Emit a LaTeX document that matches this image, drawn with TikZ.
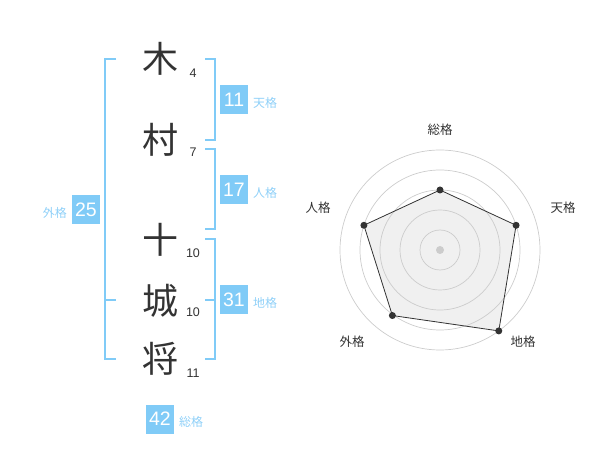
\documentclass[tikz,border=0pt]{standalone}
\usepackage{fontspec}
\setmainfont{Liberation Sans}
\newfontfamily\cjk{Noto Sans CJK JP}
\definecolor{bk}{HTML}{80CBF7}
\definecolor{lbl}{HTML}{8FD0F8}
\definecolor{ink}{HTML}{333333}
\definecolor{ring}{HTML}{CCCCCC}
\definecolor{area}{HTML}{F0F0F0}
\tikzset{
  kanji/.style={font=\cjk\fontsize{36}{36}\selectfont, text=ink, inner sep=0},
  stroke/.style={font=\fontsize{12.5}{12.5}\selectfont, text=ink, inner sep=0},
  valbox/.style={fill=bk, text=white, minimum width=28pt, minimum height=29pt, inner sep=0, font=\fontsize{19.5}{19.5}\selectfont},
  vallbl/.style={text=lbl, font=\cjk\fontsize{12}{12}\selectfont, inner sep=0, anchor=west},
  brk/.style={draw=bk, line width=1.6pt},
  axlbl/.style={text=ink, font=\cjk\fontsize{12.5}{12.5}\selectfont, inner sep=0},
  dot/.style={circle, fill=ink, inner sep=0, minimum size=7pt},
}
\begin{document}
\begin{tikzpicture}[x=1pt,y=-1pt]
\useasboundingbox (0,0) rectangle (600,470);
% characters
\node[kanji] (c1) at (160,59) {木};
\node[kanji] (c2) at (160,140) {村};
\node[kanji] (c3) at (160,240) {十};
\node[kanji] (c4) at (160,301) {城};
\node[kanji] (c5) at (160,359) {将};
\node[stroke] (s1) at (193,73) {4};
\node[stroke] (s2) at (193,152) {7};
\node[stroke] (s3) at (193,253) {10};
\node[stroke] (s4) at (193,312) {10};
\node[stroke] (s5) at (193,373) {11};
% right brackets
\draw[brk] (205,59) -- (215,59) -- (215,140) -- (205,140);
\draw[brk] (205,149) -- (215,149) -- (215,229) -- (205,229);
\draw[brk] (205,239) -- (215,239) -- (215,359) -- (205,359);
\draw[brk] (205,300) -- (215,300);
% left bracket
\draw[brk] (116,59) -- (105,59) -- (105,359) -- (116,359);
\draw[brk] (105,300) -- (116,300);
% value boxes
\node[valbox] (v1) at (234,100) {11};
\node[vallbl] (l1) at (253,103) {天格};
\node[valbox] (v2) at (234,190) {17};
\node[vallbl] (l2) at (253,193) {人格};
\node[valbox] (v3) at (234,300) {31};
\node[vallbl] (l3) at (253,303) {地格};
\node[valbox] (v4) at (86,210) {25};
\node[vallbl, anchor=east] (l4) at (67,213) {外格};
\node[valbox] (v5) at (160,419) {42};
\node[vallbl] (l5) at (179,422) {総格};
% radar
\coordinate (O) at (440,250);
\path (O) ++(0,-60) coordinate (pa)
      (O) ++({80*cos(18)},{-80*sin(18)}) coordinate (pb)
      (O) ++({100*cos(-54)},{-100*sin(-54)}) coordinate (pc)
      (O) ++({81*cos(-126)},{-81*sin(-126)}) coordinate (pd)
      (O) ++({80*cos(162)},{-80*sin(162)}) coordinate (pe);
\fill[area] (pa) -- (pb) -- (pc) -- (pd) -- (pe) -- cycle;
\foreach \r in {20,40,60,80,100} \draw[ring, line width=0.7pt] (O) circle (\r);
\draw[ink, line width=0.8pt] (pa) -- (pb) -- (pc) -- (pd) -- (pe) -- cycle;
\node[circle, fill=ring, inner sep=0, minimum size=8pt] (cen) at (O) {};
\foreach \p in {pa,pb,pc,pd,pe} \node[dot] at (\p) {};
\node[axlbl] (a1) at (440,130) {総格};
\node[axlbl] (a2) at (563,208) {天格};
\node[axlbl] (a3) at (523,342) {地格};
\node[axlbl] (a4) at (352,342) {外格};
\node[axlbl] (a5) at (318,208) {人格};
\end{tikzpicture}
\end{document}
